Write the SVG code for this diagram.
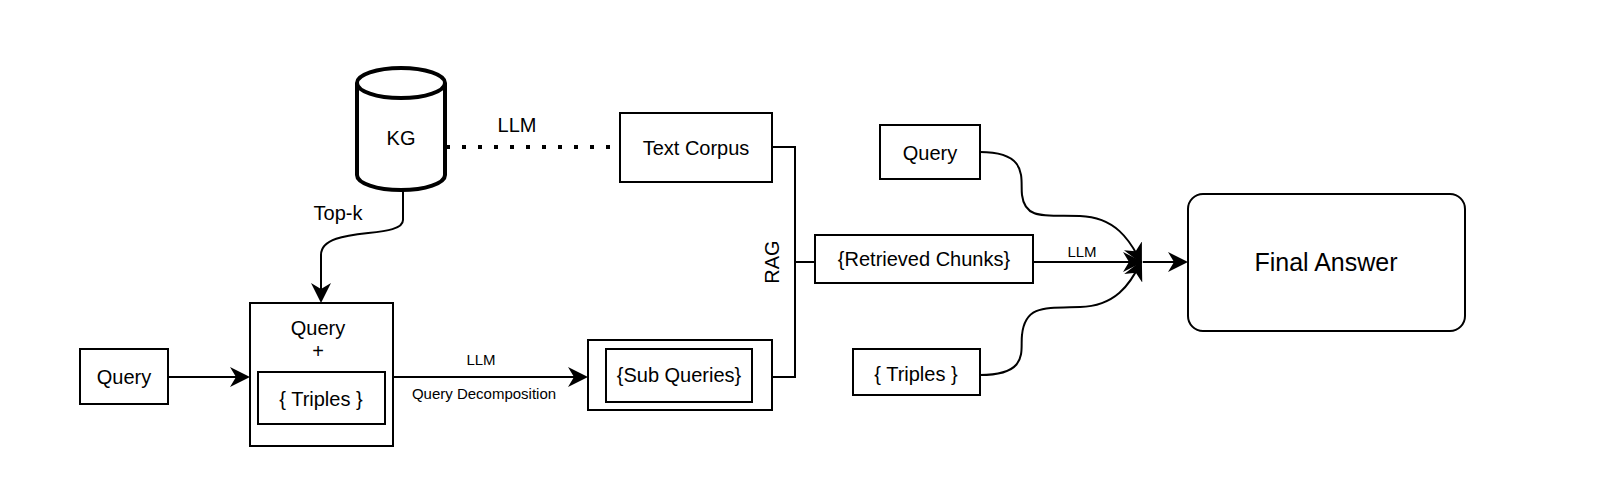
<svg xmlns="http://www.w3.org/2000/svg" width="1602" height="503" viewBox="0 0 1602 503">
<style>
.b{fill:#fff;stroke:#000;stroke-width:2}
.t{font-family:"Liberation Sans",Arial,sans-serif;font-size:20px;fill:#000;text-anchor:middle;dominant-baseline:central}
.s{font-size:15px}
.c{fill:none;stroke:#000;stroke-width:2}
</style>
<defs>
<marker id="a" viewBox="0 0 10 10" refX="9" refY="5" markerWidth="10" markerHeight="10" markerUnits="userSpaceOnUse" orient="auto"><path d="M0,0 L10,5 L0,10 L3,5 Z" fill="#000"/></marker>
<marker id="A" viewBox="0 0 10 10" refX="9" refY="5" markerWidth="20" markerHeight="20" markerUnits="userSpaceOnUse" orient="auto"><path d="M0,0 L10,5 L0,10 L3,5 Z" fill="#000"/></marker>
</defs>
<rect width="1602" height="503" fill="#fff"/>
<g id="connectors">
<path d="M446,147 H620" fill="none" stroke="#000" stroke-width="4" stroke-dasharray="4,12"/>
<text class="t" x="517" y="125">LLM</text>
<path class="c" d="M403,190 V220 C403,240 321,225 321,255 V301" marker-end="url(#A)"/>
<text class="t" x="338" y="213">Top-k</text>
<path class="c" d="M168,377 H248" marker-end="url(#A)"/>
<path class="c" d="M393,377 H586" marker-end="url(#A)"/>
<text class="t s" x="481" y="359">LLM</text>
<text class="t s" x="484" y="393">Query Decomposition</text>
<path class="c" d="M772,147 H795 V377 H772 M795,262 H815"/>
<text class="t" x="772" y="262" transform="rotate(-90 772 262)">RAG</text>
<path class="c" d="M1033,262 H1141" marker-end="url(#A)"/>
<text class="t s" x="1082" y="251">LLM</text>
<path class="c" d="M980,152 C1030,152 1020,180 1022,195 C1025,220 1045,215 1080,216 C1115,217 1130,240 1141,262" marker-end="url(#A)"/>
<path class="c" d="M980,375 C1030,375 1020,350 1022,335 C1025,305 1045,308 1080,307 C1115,306 1130,285 1141,262" marker-end="url(#A)"/>
<path class="c" d="M1143,262 H1186" marker-end="url(#A)"/>
</g>
<g id="kg">
<path d="M357,83 V175 A44,15 0 0 0 445,175 V83" fill="#fff" stroke="#000" stroke-width="4"/>
<ellipse cx="401" cy="83" rx="44" ry="15" fill="#fff" stroke="#000" stroke-width="4"/>
<text class="t" x="401" y="138">KG</text>
</g>
<g id="text-corpus"><rect class="b" x="620" y="113" width="152" height="69"/><text class="t" x="696" y="148">Text Corpus</text></g>
<g id="query-left"><rect class="b" x="80" y="349" width="88" height="55"/><text class="t" x="124" y="377">Query</text></g>
<g id="query-triples"><rect class="b" x="250" y="303" width="143" height="143"/><text class="t" x="318" y="328">Query</text><text class="t" x="318" y="351">+</text>
<g id="triples-inner"><rect class="b" x="258" y="372" width="127" height="52"/><text class="t" x="321" y="399">{ Triples }</text></g></g>
<g id="sub-queries"><rect class="b" x="588" y="340" width="184" height="70"/><rect class="b" x="606" y="349" width="146" height="53"/><text class="t" x="679" y="375">{Sub Queries}</text></g>
<g id="retrieved"><rect class="b" x="815" y="235" width="218" height="48"/><text class="t" x="924" y="259">{Retrieved Chunks}</text></g>
<g id="query-right"><rect class="b" x="880" y="125" width="100" height="54"/><text class="t" x="930" y="153">Query</text></g>
<g id="triples-right"><rect class="b" x="853" y="349" width="127" height="46"/><text class="t" x="916" y="374">{ Triples }</text></g>
<g id="final"><rect class="b" x="1188" y="194" width="277" height="137" rx="15"/><text class="t" x="1326" y="262" style="font-size:25px">Final Answer</text></g>
</svg>
